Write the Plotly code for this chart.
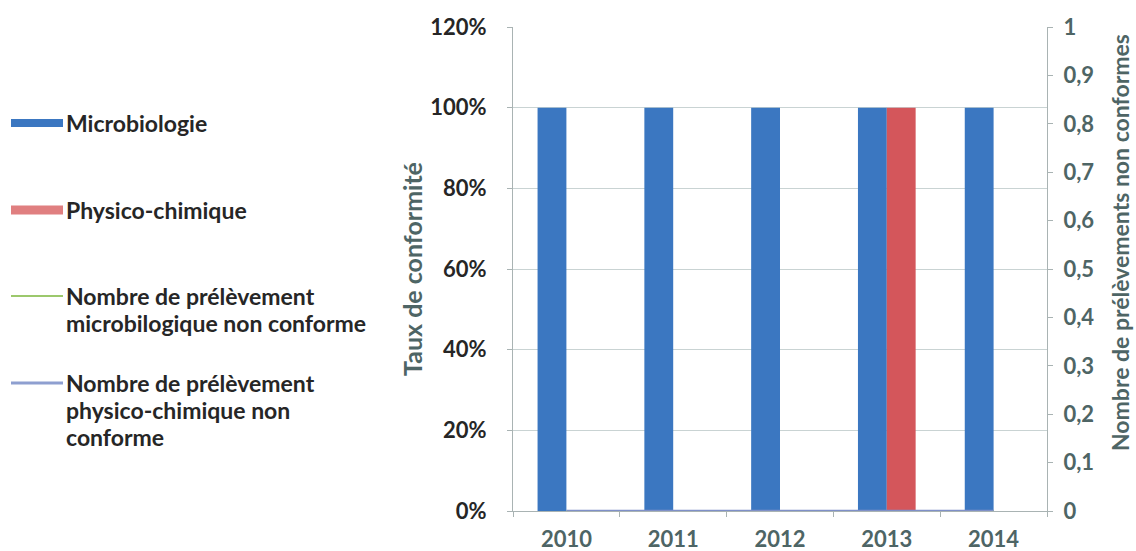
import plotly.graph_objects as go

# Data
years = ["2010", "2011", "2012", "2013", "2014"]
taux_microbiologie = [1.0, 1.0, 1.0, 1.0, 1.0]
taux_physico = [0.0, 0.0, 0.0, 1.0, 0.0]
nc_microbiologie = [0, 0, 0, 0, 0]
nc_physico = [0, 0, 0, 0, 0]
right_ticks = [0, 0.1, 0.2, 0.3, 0.4, 0.5, 0.6, 0.7, 0.8, 0.9, 1.0]
right_labels = ["0", "0,1", "0,2", "0,3", "0,4", "0,5", "0,6", "0,7", "0,8", "0,9", "1"]

BLUE = "#3b77c1"
RED = "#d4565b"
GREEN = "#9cc86c"
LAVENDER = "#7f90c8"
AXIS_TXT = "#4e6565"
FONT = "Lato"

W, H = 1136, 551
ML, MR, MT, MB = 513, 89, 27, 40
PW, PH = W - ML - MR, H - MT - MB


def px(x):
    return (x - ML) / PW


def py(y):
    return (H - MB - y) / PH


fig = go.Figure()
fig.add_trace(go.Bar(x=years, y=taux_microbiologie, name="Microbiologie",
                     marker=dict(color=BLUE, line=dict(width=0)), showlegend=False))
fig.add_trace(go.Bar(x=years, y=taux_physico, name="Physico-chimique",
                     marker=dict(color=RED, line=dict(width=0)), showlegend=False))
fig.add_trace(go.Scatter(x=years, y=nc_microbiologie, yaxis="y2", mode="lines",
                         line=dict(color=GREEN, width=2), showlegend=False))
fig.add_trace(go.Scatter(x=years, y=nc_physico, yaxis="y2", mode="lines",
                         line=dict(color=LAVENDER, width=2.5), showlegend=False))

# Side legend drawn beside the plot
legend_items = [
    (123, ["Microbiologie"], BLUE, 8),
    (210, ["Physico-chimique"], "#e07f80", 9),
    (296, ["Nombre de prélèvement", "microbilogique non conforme"], GREEN, 2),
    (383, ["Nombre de prélèvement", "physico-chimique non", "conforme"], "#8e9fd0", 3),
]
shapes = []
annotations = []
for y0, lines, col, lw in legend_items:
    shapes.append(dict(type="line", xref="paper", yref="paper",
                       x0=px(11), x1=px(63), y0=py(y0), y1=py(y0),
                       line=dict(color=col, width=lw)))
    for i, t in enumerate(lines):
        annotations.append(dict(text=t, xref="paper", yref="paper",
                                x=px(64), y=py(y0 + 27 * i), xanchor="left", yanchor="middle",
                                showarrow=False,
                                font=dict(family=FONT, size=23, color="#262626", weight="bold")))

# Right-hand axis title, set a little above the axis centre
annotations.append(dict(text="Nombre de prélèvements non conformes", textangle=-90,
                        xref="paper", yref="paper", x=px(1120), y=py(243),
                        xanchor="center", yanchor="middle", showarrow=False,
                        font=dict(family=FONT, size=23, color=AXIS_TXT, weight="bold")))

fig.update_layout(
    width=W, height=H,
    margin=dict(l=ML, r=MR, t=MT, b=MB, autoexpand=False),
    paper_bgcolor="white", plot_bgcolor="white",
    barmode="group", bargap=0.46, bargroupgap=0,
    font=dict(family=FONT, weight="bold"),
    shapes=shapes, annotations=annotations,
    xaxis=dict(
        type="category", showgrid=False, showline=True, linecolor="#a9b3b3", linewidth=1,
        ticks="outside", tickson="boundaries", ticklen=5, tickcolor="#a9b3b3",
        tickfont=dict(family=FONT, size=22, color=AXIS_TXT, weight="bold"),
        ticklabelstandoff=9, automargin=False,
    ),
    yaxis=dict(
        range=[0, 1.2], tickvals=[0, 0.2, 0.4, 0.6, 0.8, 1.0, 1.2], tickformat=".0%",
        showgrid=True, gridcolor="#c9d3d3", gridwidth=1, zeroline=False,
        showline=True, linecolor="#a9b3b3", linewidth=1,
        ticks="outside", ticklen=5, tickcolor="#a9b3b3",
        tickfont=dict(family=FONT, size=22, color="#262626", weight="bold"),
        ticklabelstandoff=16, automargin=False,
        title=dict(text="Taux de conformité", standoff=0,
                   font=dict(family=FONT, size=25, color=AXIS_TXT, weight="bold")),
    ),
    yaxis2=dict(
        overlaying="y", side="right", range=[0, 1],
        tickvals=right_ticks, ticktext=right_labels,
        showgrid=False, zeroline=False, showline=True, linecolor="#a9b3b3", linewidth=1,
        ticks="outside", ticklen=5, tickcolor="#a9b3b3",
        tickfont=dict(family=FONT, size=22, color=AXIS_TXT, weight="bold"),
        ticklabelstandoff=6, automargin=False,
    ),
)

fig.write_html("out.html")
